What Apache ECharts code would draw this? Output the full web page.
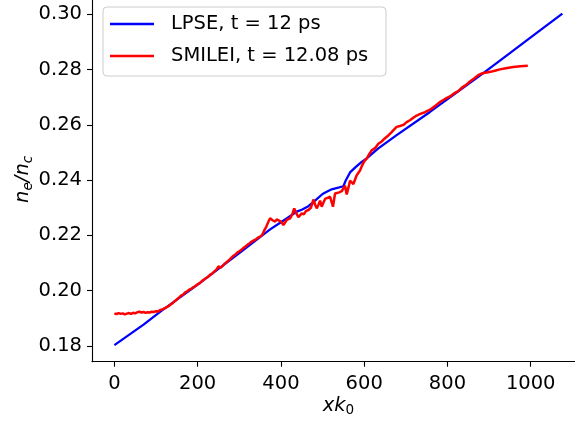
<!DOCTYPE html>
<html>
<head>
<meta charset="utf-8">
<script src="https://cdn.jsdelivr.net/npm/echarts@6/dist/echarts.min.js"></script>
<style>
html,body{margin:0;padding:0;background:#fff;}
#chart{width:575px;height:423px;}
</style>
</head>
<body>
<div id="chart"></div>
<script>
const seriesNames = ['LPSE, t = 12 ps', 'SMILEI, t = 12.08 ps'];
const xTicks = [0, 200, 400, 600, 800, 1000];
const yTicks = [0.18, 0.20, 0.22, 0.24, 0.26, 0.28, 0.30];

const lpse = [
  [0,0.1803],[70,0.1877],[72,0.1880],[112,0.1926],[200,0.2022],[300,0.2136],
  [374,0.2222],[400,0.2248],[420,0.2268],[438,0.2286],[450,0.2293],[466,0.2306],
  [480,0.2323],[500,0.2350],[510,0.2358],[522,0.2367],[540,0.2374],[550,0.2378],
  [556,0.2400],[566,0.2428],[580,0.2448],[594,0.2466],[606,0.2479],[634,0.2515],
  [678,0.2563],[758,0.2647],[874,0.2774],[950,0.2860],[1000,0.2917],[1076,0.3003]
];

const smilei = [
  [0,0.1918],[5,0.1915],[10,0.1919],[15,0.1916],[20,0.1918],[25,0.1914],[30,0.1917],
  [35,0.1919],[40,0.1916],[45,0.1920],[50,0.1918],[55,0.1922],[60,0.1924],[65,0.1921],
  [70,0.1923],[75,0.1920],[80,0.1922],[85,0.1921],[90,0.1924],[95,0.1923],[100,0.1926],
  [105,0.1925],[110,0.1930],[115,0.1932],[120,0.1936],[125,0.1940],[130,0.1944],
  [135,0.1950],[140,0.1955],[145,0.1962],[150,0.1968],[155,0.1975],[160,0.1982],
  [165,0.1986],[170,0.1994],[175,0.1998],[180,0.2004],[185,0.2007],[190,0.2013],
  [195,0.2017],[200,0.2024],[205,0.2027],[210,0.2035],[215,0.2040],[220,0.2046],
  [225,0.2050],[230,0.2058],[235,0.2062],[240,0.2070],[245,0.2076],[250,0.2088],
  [255,0.2083],[260,0.2090],[265,0.2098],[270,0.2104],[275,0.2110],[280,0.2118],
  [285,0.2125],[290,0.2130],[295,0.2138],[300,0.2142],[305,0.2148],[310,0.2155],
  [315,0.2160],[320,0.2167],[325,0.2172],[330,0.2178],[335,0.2182],[340,0.2186],
  [345,0.2192],[350,0.2196],[355,0.2202],[360,0.2218],[365,0.2232],[370,0.2250],
  [374,0.2262],[380,0.2255],[386,0.2250],[390,0.2258],[394,0.2262],[400,0.2250],
  [406,0.2238],[410,0.2245],[414,0.2256],[418,0.2250],[422,0.2262],[427,0.2275],
  [432,0.2298],[437,0.2280],[442,0.2266],[446,0.2262],[450,0.2280],[455,0.2276],
  [460,0.2288],[466,0.2292],[472,0.2300],[478,0.2330],[482,0.2312],[486,0.2298],
  [490,0.2310],[494,0.2326],[498,0.2304],[502,0.2318],[506,0.2332],[512,0.2336],
  [518,0.2340],[522,0.2320],[525,0.2304],[530,0.2352],[534,0.2358],[540,0.2356],
  [546,0.2360],[550,0.2370],[554,0.2380],[558,0.2348],[562,0.2372],[566,0.2398],
  [570,0.2392],[574,0.2386],[578,0.2382],[582,0.2418],[586,0.2420],[590,0.2435],
  [594,0.2450],[600,0.2468],[606,0.2478],[612,0.2494],[618,0.2508],[626,0.2516],
  [634,0.2532],[642,0.2540],[650,0.2552],[658,0.2562],[666,0.2574],[672,0.2584],
  [678,0.2593],[686,0.2596],[694,0.2600],[702,0.2610],[710,0.2617],[718,0.2626],
  [726,0.2634],[732,0.2638],[738,0.2642],[746,0.2646],[758,0.2655],[770,0.2668],
  [782,0.2683],[794,0.2694],[806,0.2703],[818,0.2716],[826,0.2722],[834,0.2734],
  [844,0.2744],[854,0.2757],[864,0.2768],[874,0.2780],[882,0.2786],[890,0.2789],
  [898,0.2791],[906,0.2793],[916,0.2797],[926,0.2801],[940,0.2805],[958,0.2810],
  [975,0.2812],[993,0.2814]
];

const FONT = 'DejaVu Sans';
const FS = 19.5;

const chart = echarts.init(document.getElementById('chart'), null, {renderer: 'canvas'});
chart.setOption({
  animation: false,
  backgroundColor: '#fff',
  grid: {left: 92, top: -3, width: 493, height: 364.7, outerBoundsMode: 'none', containLabel: false},
  legend: {
    left: 103, top: 7, orient: 'vertical',
    padding: [6, 10, 9, 7],
    itemGap: 10, itemWidth: 44, itemHeight: 2.4, icon: 'rect',
    backgroundColor: 'rgba(255,255,255,0.8)',
    borderColor: '#cccccc', borderWidth: 1, borderRadius: 4,
    textStyle: {fontFamily: FONT, fontSize: FS, color: '#000', lineHeight: 22, padding: [0, 0, 0, 12], width: 205},
    data: seriesNames
  },
  xAxis: {
    type: 'value', min: -53.8, max: 1130.4,
    axisLine: {show: true, onZero: false, lineStyle: {color: '#000', width: 1.1}},
    axisTick: {show: true, length: 5, lineStyle: {color: '#000', width: 1.1}, customValues: xTicks},
    axisLabel: {customValues: xTicks, fontFamily: FONT, fontSize: FS, color: '#000', margin: 12,
      formatter: v => String(Math.round(v))},
    splitLine: {show: false},
    name: '{i|xk}{s|0}', nameLocation: 'middle', nameGap: 32, nameMoveOverlap: false,
    nameTextStyle: {
      rich: {
        i: {fontFamily: FONT, fontStyle: 'italic', fontSize: FS, color: '#000', lineHeight: 24, verticalAlign: 'middle'},
        s: {fontFamily: FONT, fontSize: 13.6, color: '#000', lineHeight: 14, verticalAlign: 'bottom'}
      }
    }
  },
  yAxis: {
    type: 'value', min: 0.1743, max: 0.3063,
    axisLine: {show: true, onZero: false, lineStyle: {color: '#000', width: 1.1}},
    axisTick: {show: true, length: 5, lineStyle: {color: '#000', width: 1.1}, customValues: yTicks},
    axisLabel: {customValues: yTicks, fontFamily: FONT, fontSize: FS, color: '#000', margin: 10,
      formatter: v => v.toFixed(2)},
    splitLine: {show: false},
    name: '{i|n}{s|e}{i|/n}{s|c}', nameLocation: 'middle', nameGap: 57, nameRotate: 90, nameMoveOverlap: false,
    nameTextStyle: {
      rich: {
        i: {fontFamily: FONT, fontStyle: 'italic', fontSize: FS, color: '#000', lineHeight: 24, verticalAlign: 'middle'},
        s: {fontFamily: FONT, fontStyle: 'italic', fontSize: 13.6, color: '#000', lineHeight: 14, verticalAlign: 'bottom'}
      }
    }
  },
  series: [
    {name: seriesNames[0], type: 'line', data: lpse, showSymbol: false, symbol: 'none',
      lineStyle: {color: '#0000ff', width: 2.3}, itemStyle: {color: '#0000ff'}, z: 2},
    {name: seriesNames[1], type: 'line', data: smilei, showSymbol: false, symbol: 'none',
      lineStyle: {color: '#ff0000', width: 2.5}, itemStyle: {color: '#ff0000'}, z: 3}
  ]
});
</script>
</body>
</html>
